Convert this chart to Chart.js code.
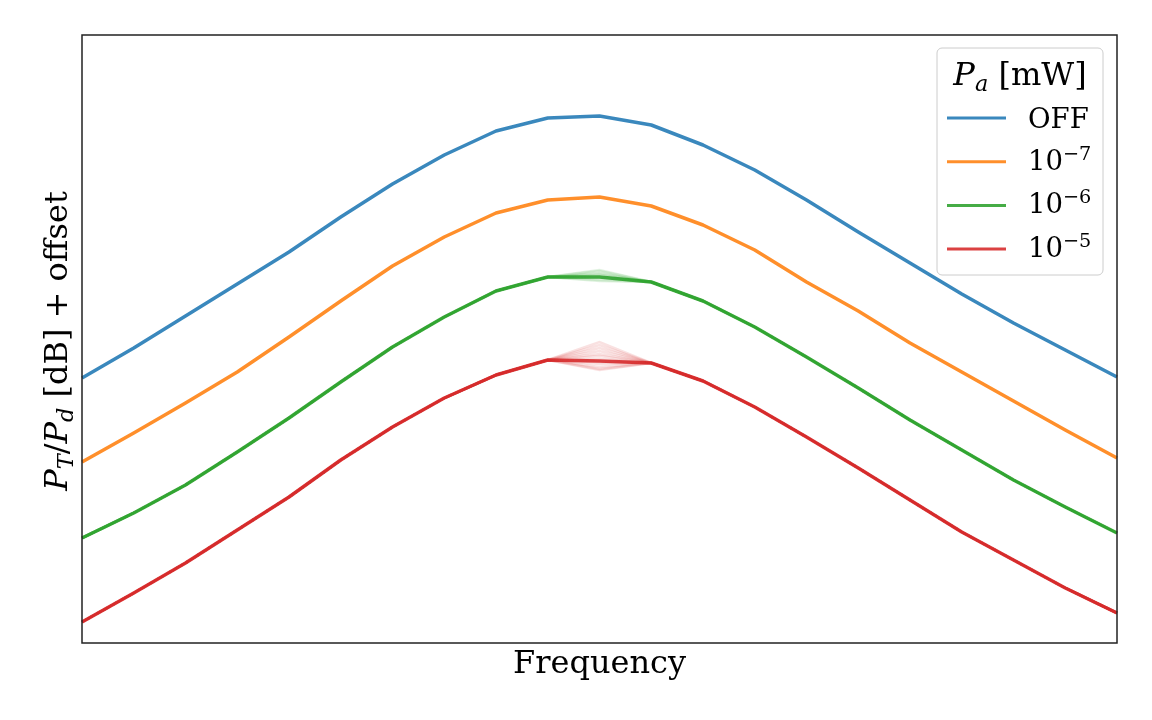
<!DOCTYPE html>
<html>
<head>
<meta charset="utf-8">
<script src="https://cdn.jsdelivr.net/npm/chart.js@4.4.1/dist/chart.umd.min.js"></script>
<style>
html,body{margin:0;padding:0;background:#ffffff;}
#wrap{width:1152px;height:720px;position:relative;}
</style>
</head>
<body>
<div id="wrap"><canvas id="c" width="1152" height="720"></canvas></div>
<script>
// ---- data (y in dB, arbitrary offset) ----
const frequencyPoints = [0,1,2,3,4,5,6,7,8,9,10,11,12,13,14,15,16,17,18,19,20];
const seriesNames = ['OFF', '10^-7', '10^-6', '10^-5'];
const offValues = [26.5,29.5,32.7,35.9,39.1,42.6,45.9,48.8,51.2,52.5,52.7,51.8,49.8,47.3,44.3,41.1,38.0,34.9,32.0,29.3,26.6];
const p7Values  = [18.1,21.0,24.0,27.1,30.6,34.2,37.7,40.6,43.0,44.3,44.6,43.7,41.8,39.3,36.1,33.2,30.0,27.1,24.2,21.3,18.5];
const p6Values  = [10.5,13.0,15.8,19.1,22.5,26.1,29.6,32.6,35.2,36.6,36.6,36.1,34.2,31.6,28.6,25.5,22.3,19.3,16.3,13.6,11.0];
const p5Values  = [2.1,5.0,8.0,11.3,14.6,18.3,21.6,24.5,26.8,28.3,28.2,28.0,26.2,23.6,20.6,17.5,14.3,11.1,8.3,5.5,3.0];
// individual sweeps that differ at the centre frequency
const p6PeakVariants = [37.3,37.2,37.0,36.9,36.8,36.6,36.5,36.3,36.2];
const p5PeakVariants = [30.1,29.8,29.5,29.2,28.9,28.7,28.4,28.1,27.9,27.6,27.4,27.3];
const peakIndex = 10;
const yMin = 0, yMax = 60.8;

const seriesValues = [offValues, p7Values, p6Values, p5Values];
const seriesVariants = [[], [], p6PeakVariants, p5PeakVariants];
const seriesColors = ['31,119,180', '255,127,14', '44,160,44', '214,39,40'];

const datasets = [];
seriesValues.forEach((vals, s) => {
  // faint individual sweeps
  seriesVariants[s].forEach(v => {
    const d = vals.slice();
    d[peakIndex] = v;
    datasets.push({
      label: seriesNames[s] + ' sweep',
      data: d,
      borderColor: 'rgba(' + seriesColors[s] + ',0.14)',
      borderWidth: 2.5,
      pointRadius: 0,
      tension: 0,
      fill: false,
      isSweep: true
    });
  });
  datasets.push({
    label: seriesNames[s],
    data: vals,
    borderColor: 'rgba(' + seriesColors[s] + ',0.88)',
    borderWidth: 3.5,
    pointRadius: 0,
    tension: 0,
    fill: false,
    borderJoinStyle: 'round',
    borderCapStyle: 'butt'
  });
});

const SERIF = '"DejaVu Serif", "Liberation Serif", serif';

function drawRich(ctx, segs, x, y, align) {
  let total = 0;
  segs.forEach(s => {
    ctx.font = (s.italic ? 'italic ' : '') + s.size + 'px ' + SERIF;
    s.w = ctx.measureText(s.t).width;
    total += s.w;
  });
  let cx = align === 'center' ? x - total / 2 : x;
  ctx.textAlign = 'left';
  ctx.textBaseline = 'alphabetic';
  segs.forEach(s => {
    ctx.font = (s.italic ? 'italic ' : '') + s.size + 'px ' + SERIF;
    ctx.fillText(s.t, cx, y + (s.dy || 0));
    cx += s.w;
  });
  return total;
}

const mplDecor = {
  id: 'mplDecor',
  afterDatasetsDraw(chart) {
    const ctx = chart.ctx;
    const a = chart.chartArea;
    ctx.save();
    // frame
    ctx.strokeStyle = '#222';
    ctx.lineWidth = 1.5;
    ctx.strokeRect(a.left, a.top, a.right - a.left, a.bottom - a.top);

    // axis labels
    ctx.fillStyle = '#000';
    const fs = 32;
    drawRich(ctx, [{t: 'Frequency', size: fs}], (a.left + a.right) / 2, a.bottom + 30, 'center');

    ctx.save();
    ctx.translate(a.left - 15, (a.top + a.bottom) / 2 + 2);
    ctx.rotate(-Math.PI / 2);
    drawRich(ctx, [
      {t: 'P', size: fs, italic: true},
      {t: 'T', size: fs * 0.7, italic: true, dy: 6},
      {t: '/', size: fs},
      {t: 'P', size: fs, italic: true},
      {t: 'd', size: fs * 0.7, italic: true, dy: 6},
      {t: ' [dB] + offset', size: fs}
    ], 0, 0, 'center');
    ctx.restore();

    // legend
    const bx = a.right - 180, by = a.top + 13, bw = 166, bh = 227;
    ctx.beginPath();
    ctx.roundRect(bx, by, bw, bh, 5);
    ctx.fillStyle = 'rgba(255,255,255,0.8)';
    ctx.fill();
    ctx.strokeStyle = '#cccccc';
    ctx.lineWidth = 1;
    ctx.stroke();

    ctx.fillStyle = '#000';
    const tfs = 32;
    drawRich(ctx, [
      {t: 'P', size: tfs, italic: true},
      {t: 'a', size: tfs * 0.7, italic: true, dy: 6},
      {t: ' [mW]', size: tfs}
    ], bx + bw / 2, by + 37, 'center');

    const lfs = 27.5;
    const mains = chart.data.datasets.filter(d => !d.isSweep);
    mains.forEach((d, i) => {
      const ly = by + 70 + i * 43.7;
      ctx.strokeStyle = d.borderColor;
      ctx.lineWidth = 3;
      ctx.beginPath();
      ctx.moveTo(bx + 10, ly);
      ctx.lineTo(bx + 69, ly);
      ctx.stroke();
      ctx.fillStyle = '#000';
      const name = d.label;
      if (name.indexOf('^') >= 0) {
        const parts = name.split('^');
        drawRich(ctx, [
          {t: parts[0], size: lfs},
          {t: parts[1].replace('-', '\u2212'), size: lfs * 0.7, dy: -10}
        ], bx + 91, ly + 8, 'left');
      } else {
        drawRich(ctx, [{t: name, size: lfs}], bx + 91, ly + 10, 'left');
      }
    });
    ctx.restore();
  }
};

new Chart(document.getElementById('c'), {
  type: 'line',
  data: { labels: frequencyPoints, datasets: datasets },
  options: {
    responsive: false,
    animation: false,
    devicePixelRatio: 1,
    layout: { padding: { left: 82, right: 35, top: 35, bottom: 77 } },
    scales: {
      x: { display: false, offset: false },
      y: { display: false, min: yMin, max: yMax }
    },
    plugins: {
      legend: { display: false },
      tooltip: { enabled: false }
    }
  },
  plugins: [mplDecor]
});
</script>
</body>
</html>
